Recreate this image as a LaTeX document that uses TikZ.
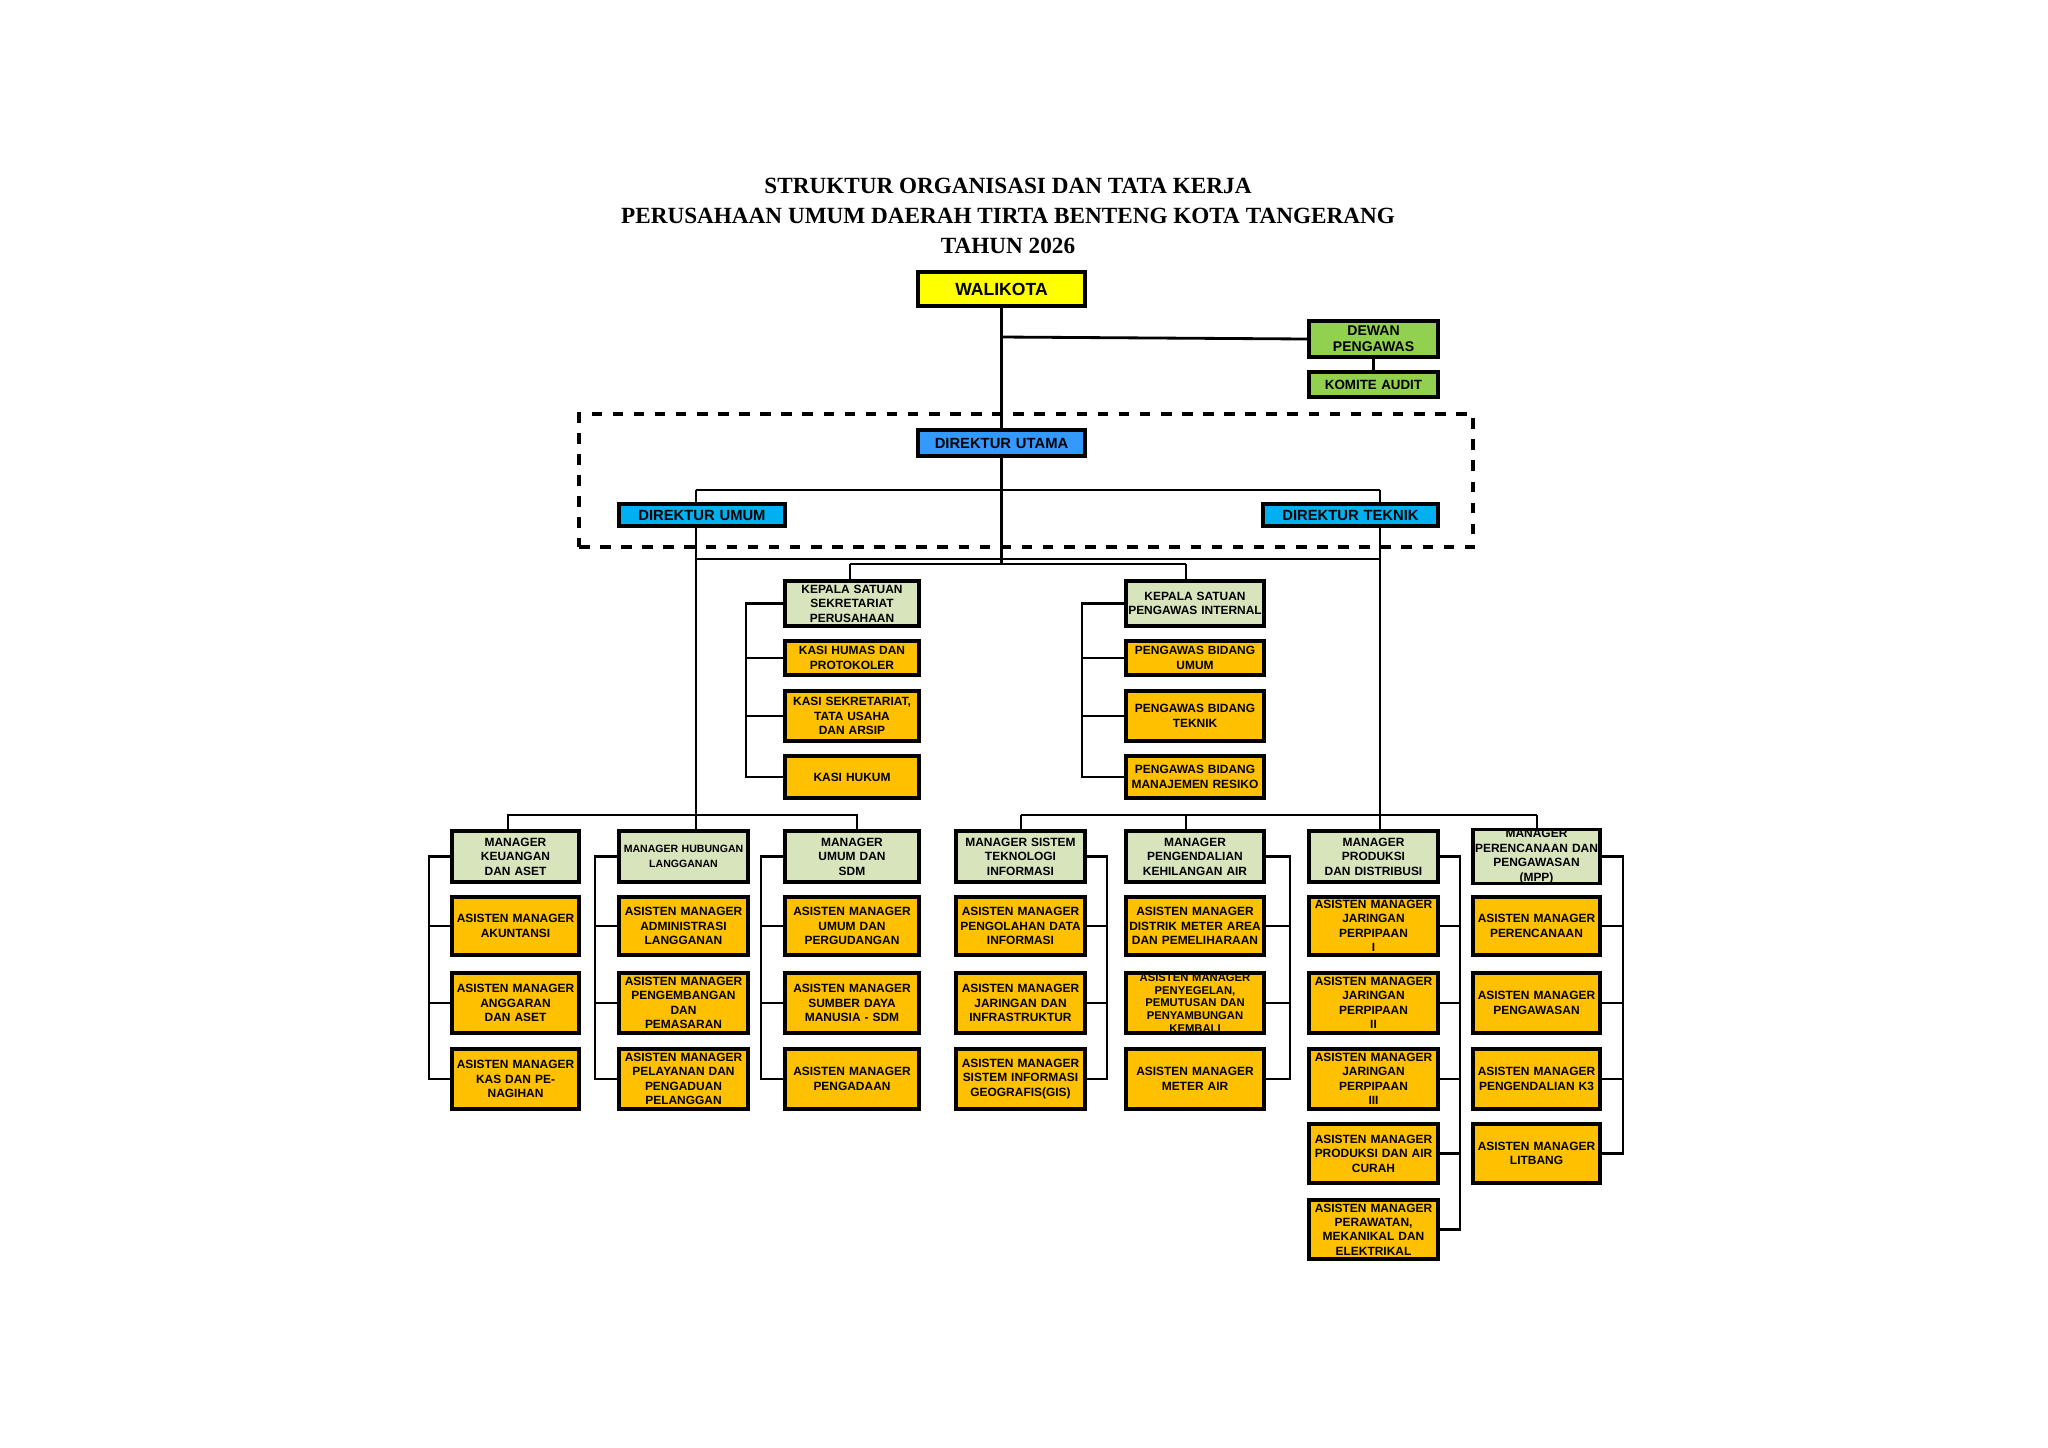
\documentclass[tikz,border=0pt]{standalone}
\usepackage{fontspec}
\setmainfont{Liberation Sans}
\newfontfamily\titlefont{Liberation Serif}
\definecolor{cyel}{HTML}{FFFF00}
\definecolor{cgrn}{HTML}{92D050}
\definecolor{cblu}{HTML}{3399FF}
\definecolor{ccya}{HTML}{00B0F0}
\definecolor{clgr}{HTML}{D8E4BC}
\definecolor{corg}{HTML}{FFC000}
\newcommand{\bx}[7]{\node[box,#6,minimum width={(#4-#2)*0.1mm},minimum height={(#5-#3)*0.1mm},text width={(#4-#2-4)*0.1mm}] (#1) at ({(#2+#4)/2},{(#3+#5)/2}) {#7};}
\begin{document}
\begin{tikzpicture}[x=0.1mm,y=-0.1mm,
 box/.style={draw=black,line width=1.1pt,inner sep=0pt,align=center,font=\fontsize{3.4}{4.1}\selectfont\bfseries},
 org/.style={fill=corg},
 lg/.style={fill=clgr},
 ln/.style={line width=0.8pt}]
\useasboundingbox (0,0) rectangle (2048,1447);
\node[font=\titlefont\fontsize{6.6}{8.5}\selectfont\bfseries,align=center] (title) at (1008,216) {STRUKTUR ORGANISASI DAN TATA KERJA\\PERUSAHAAN UMUM DAERAH TIRTA BENTENG KOTA TANGERANG\\TAHUN 2026};
\bx{wali}{918}{272}{1085}{306}{fill=cyel,font=\fontsize{5}{6}\selectfont\bfseries}{WALIKOTA}
\bx{dewan}{1309}{321}{1438}{357}{fill=cgrn,font=\fontsize{4}{4.6}\selectfont\bfseries}{DEWAN\\PENGAWAS}
\bx{komite}{1309}{372}{1438}{397}{fill=cgrn,font=\fontsize{3.8}{4.6}\selectfont\bfseries}{KOMITE AUDIT}
\node[draw,dashed,line width=1pt,minimum width={894*0.1mm},minimum height={133*0.1mm},inner sep=0pt] (dash) at (1026,480.5) {};
\bx{utama}{918}{430}{1085}{456}{fill=cblu,font=\fontsize{4.2}{5}\selectfont\bfseries}{DIREKTUR UTAMA}
\bx{umum}{619}{504}{785}{526}{fill=ccya,font=\fontsize{4.2}{5}\selectfont\bfseries}{DIREKTUR UMUM}
\bx{teknik}{1263}{504}{1438}{526}{fill=ccya,font=\fontsize{4.2}{5}\selectfont\bfseries}{DIREKTUR TEKNIK}
% satuan
\bx{ks}{785}{581}{919}{626}{lg}{KEPALA SATUAN\\SEKRETARIAT\\PERUSAHAAN}
\bx{k1}{785}{641}{919}{675}{org}{KASI HUMAS DAN\\PROTOKOLER}
\bx{k2}{785}{691}{919}{741}{org}{KASI SEKRETARIAT,\\TATA USAHA DAN ARSIP}
\bx{k3}{785}{756}{919}{798}{org}{KASI HUKUM}
\bx{kp}{1126}{581}{1264}{626}{lg}{KEPALA SATUAN\\PENGAWAS INTERNAL}
\bx{p1}{1126}{641}{1264}{675}{org}{PENGAWAS BIDANG\\UMUM}
\bx{p2}{1126}{691}{1264}{741}{org}{PENGAWAS BIDANG\\TEKNIK}
\bx{p3}{1126}{756}{1264}{798}{org}{PENGAWAS BIDANG\\MANAJEMEN RESIKO}
% managers
\bx{m1}{452}{831}{579}{882}{lg}{MANAGER KEUANGAN\\DAN ASET}
\bx{m2}{619}{831}{748}{882}{lg,font=\fontsize{3}{4.1}\selectfont\bfseries}{MANAGER HUBUNGAN\\LANGGANAN}
\bx{m3}{785}{831}{919}{882}{lg}{MANAGER UMUM DAN\\SDM}
\bx{m4}{956}{831}{1085}{882}{lg}{MANAGER SISTEM\\TEKNOLOGI INFORMASI}
\bx{m5}{1126}{831}{1264}{882}{lg}{MANAGER\\PENGENDALIAN\\KEHILANGAN AIR}
\bx{m6}{1309}{831}{1438}{882}{lg}{MANAGER PRODUKSI\\DAN DISTRIBUSI}
\bx{m7}{1473}{831}{1600}{882}{lg}{MANAGER\\PERENCANAAN DAN\\PENGAWASAN (MPP)}
% asisten col1
\bx{a11}{452}{897}{579}{955}{org}{ASISTEN MANAGER\\AKUNTANSI}
\bx{a12}{452}{973}{579}{1033}{org}{ASISTEN MANAGER\\ANGGARAN DAN ASET}
\bx{a13}{452}{1049}{579}{1109}{org}{ASISTEN MANAGER\\KAS DAN PENAGIHAN}
\bx{a21}{619}{897}{748}{955}{org}{ASISTEN MANAGER\\ADMINISTRASI\\LANGGANAN}
\bx{a22}{619}{973}{748}{1033}{org}{ASISTEN MANAGER\\PENGEMBANGAN DAN\\PEMASARAN}
\bx{a23}{619}{1049}{748}{1109}{org}{ASISTEN MANAGER\\PELAYANAN DAN\\PENGADUAN\\PELANGGAN}
\bx{a31}{785}{897}{919}{955}{org}{ASISTEN MANAGER\\UMUM DAN\\PERGUDANGAN}
\bx{a32}{785}{973}{919}{1033}{org}{ASISTEN MANAGER\\SUMBER DAYA\\MANUSIA - SDM}
\bx{a33}{785}{1049}{919}{1109}{org}{ASISTEN MANAGER\\PENGADAAN}
\bx{a41}{956}{897}{1085}{955}{org}{ASISTEN MANAGER\\PENGOLAHAN DATA\\INFORMASI}
\bx{a42}{956}{973}{1085}{1033}{org}{ASISTEN MANAGER\\JARINGAN DAN\\INFRASTRUKTUR}
\bx{a43}{956}{1049}{1085}{1109}{org}{ASISTEN MANAGER\\SISTEM INFORMASI\\GEOGRAFIS(GIS)}
\bx{a51}{1126}{897}{1264}{955}{org}{ASISTEN MANAGER\\DISTRIK METER AREA\\DAN PEMELIHARAAN}
\bx{a52}{1126}{973}{1264}{1033}{org,font=\fontsize{3.2}{3.6}\selectfont\bfseries}{ASISTEN MANAGER\\PENYEGELAN,\\PEMUTUSAN DAN\\PENYAMBUNGAN\\KEMBALI}
\bx{a53}{1126}{1049}{1264}{1109}{org}{ASISTEN MANAGER\\METER AIR}
\bx{a61}{1309}{897}{1438}{955}{org}{ASISTEN MANAGER\\JARINGAN PERPIPAAN\\I}
\bx{a62}{1309}{973}{1438}{1033}{org}{ASISTEN MANAGER\\JARINGAN PERPIPAAN\\II}
\bx{a63}{1309}{1049}{1438}{1109}{org}{ASISTEN MANAGER\\JARINGAN PERPIPAAN\\III}
\bx{a64}{1309}{1124}{1438}{1183}{org}{ASISTEN MANAGER\\PRODUKSI DAN AIR\\CURAH}
\bx{a65}{1309}{1200}{1438}{1259}{org}{ASISTEN MANAGER\\PERAWATAN,\\MEKANIKAL DAN\\ELEKTRIKAL}
\bx{a71}{1473}{897}{1600}{955}{org}{ASISTEN MANAGER\\PERENCANAAN}
\bx{a72}{1473}{973}{1600}{1033}{org}{ASISTEN MANAGER\\PENGAWASAN}
\bx{a73}{1473}{1049}{1600}{1109}{org}{ASISTEN MANAGER\\PENGENDALIAN K3}
\bx{a74}{1473}{1124}{1600}{1183}{org}{ASISTEN MANAGER\\LITBANG}
% connectors
\coordinate (jd) at (1001.5,337);
\coordinate (t1) at (1001.5,564);
\coordinate (bl) at (696,490);
\coordinate (br) at (1380,490);
\coordinate (ul) at (696,815);
\coordinate (ur) at (1380,815);
\coordinate (s1) at (850,564);
\coordinate (s2) at (1186,564);
\coordinate (l559) at (696,559);
\coordinate (r559) at (1380,559);
\begin{scope}[ln]
\draw (wali.south) -- (utama.north);
\draw (jd) -- (dewan.west);
\draw (dewan.south) -- (komite.north);
\draw (utama.south) -- (t1);
\draw (bl) -- (br);
\draw (bl) -- (bl |- umum.north);
\draw (br) -- (br |- teknik.north);
\draw (bl |- umum.south) -- (ul);
\draw (br |- teknik.south) -- (ur);
\draw (l559) -- (r559);
\draw (s1) -- (s2);
\draw (s1) -- (s1 |- ks.north);
\draw (s2) -- (s2 |- kp.north);
\draw (ks.west) -- ++(-37,0) |- (k3.west);
\foreach \n in {k1,k2} \draw (\n.west) -- ++(-37,0);
\draw (kp.west) -- ++(-42,0) |- (p3.west);
\foreach \n in {p1,p2} \draw (\n.west) -- ++(-42,0);
\draw (m1.north -| 508,0) -- (508,815) -- (857,815) -- (m3.north -| 857,0);
\draw (ul) -- (ul |- m2.north);
\draw (1021,815) -- (1537,815);
\draw (1021,815) -- (m4.north -| 1021,0);
\draw (1186,815) -- (m5.north -| 1186,0);
\draw (ur) -- (ur |- m6.north);
\draw (1537,815) -- (m7.north -| 1537,0);
% left brackets
\draw (m1.west) -- ++(-21,0) |- (a13.west);
\foreach \n in {a11,a12} \draw (\n.west) -- ++(-21,0);
\draw (m2.west) -- ++(-22,0) |- (a23.west);
\foreach \n in {a21,a22} \draw (\n.west) -- ++(-22,0);
\draw (m3.west) -- ++(-22,0) |- (a33.west);
\foreach \n in {a31,a32} \draw (\n.west) -- ++(-22,0);
% right brackets
\draw (m4.east) -- ++(20,0) |- (a43.east);
\foreach \n in {a41,a42} \draw (\n.east) -- ++(20,0);
\draw (m5.east) -- ++(24,0) |- (a53.east);
\foreach \n in {a51,a52} \draw (\n.east) -- ++(24,0);
\draw (m6.east) -- ++(20,0) |- (a65.east);
\foreach \n in {a61,a62,a63,a64} \draw (\n.east) -- ++(20,0);
\draw (m7.east) -- ++(21,0) |- (a74.east);
\foreach \n in {a71,a72,a73} \draw (\n.east) -- ++(21,0);
\end{scope}
\end{tikzpicture}
\end{document}
